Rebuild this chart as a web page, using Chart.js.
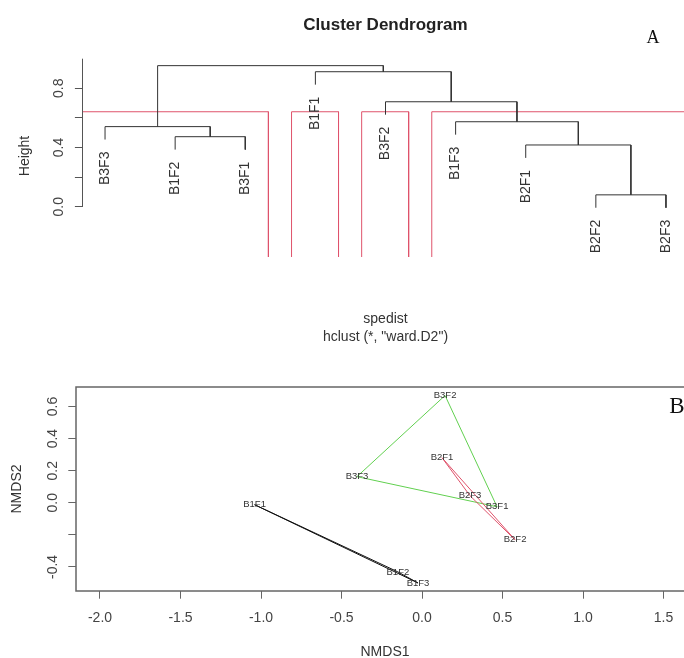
<!DOCTYPE html>
<html>
<head>
<meta charset="utf-8">
<script src="https://cdn.jsdelivr.net/npm/chart.js@4.4.1/dist/chart.umd.min.js"></script>
<style>
  html, body { margin: 0; padding: 0; background: #fff; overflow: hidden; width: 684px; height: 658px; }
  canvas { position: absolute; left: 0; }
  #dendro { top: 0; }
  #nmds { top: 350px; }
</style>
</head>
<body>
<canvas id="dendro" width="700" height="350"></canvas>
<canvas id="nmds" width="720" height="330"></canvas>
<script>
const FONT = '"Liberation Sans", Arial, sans-serif';
const SERIF = '"Liberation Serif", "Times New Roman", serif';

// --- A: cluster dendrogram (hclust, ward.D2) ---
const leafOrder = ['B3F3', 'B1F2', 'B3F1', 'B1F1', 'B3F2', 'B1F3', 'B2F1', 'B2F2', 'B2F3'];
// R style merge table: negative = leaf (position in leafOrder), positive = earlier merge
const mergeLeft = [-8, -7, -2, -1, -6, -5, -4, 4];
const mergeRight = [-9, 1, -3, 3, 2, 5, 6, 7];
const mergeHeight = [0.08, 0.417, 0.473, 0.541, 0.574, 0.709, 0.912, 0.953];
const nClusters = 4;
const heightTicks = [0, 0.2, 0.4, 0.6, 0.8];
const heightLabels = ['0.0', '', '0.4', '', '0.8'];
const heightAxisTop = 1.0;

// --- B: NMDS ---
const sites = ['B1F1', 'B1F2', 'B1F3', 'B2F1', 'B2F2', 'B2F3', 'B3F1', 'B3F2', 'B3F3'];
const groups = ['B1', 'B1', 'B1', 'B2', 'B2', 'B2', 'B3', 'B3', 'B3'];
const nmds1 = [-1.04, -0.15, -0.025, 0.124, 0.578, 0.298, 0.466, 0.143, -0.404];
const nmds2 = [-0.012, -0.431, -0.50, 0.281, -0.231, 0.044, -0.025, 0.669, 0.163];
const groupNames = ['B1', 'B2', 'B3'];
const groupColors = ['#111111', '#DF536B', '#61D04F'];
const nmds1Ticks = [-2.0, -1.5, -1.0, -0.5, 0.0, 0.5, 1.0, 1.5];
const nmds1Labels = ['-2.0', '-1.5', '-1.0', '-0.5', '0.0', '0.5', '1.0', '1.5'];
const nmds2Ticks = [-0.4, -0.2, 0.0, 0.2, 0.4, 0.6];
const nmds2Labels = ['-0.4', '', '0.0', '0.2', '0.4', '0.6'];

// build dendrogram segments from the merge table
const hang = 0.1 * (Math.max(...mergeHeight) - Math.min(...mergeHeight));
const leafEnd = [];
const mergeX = [];
const dendroSets = [];
mergeLeft.forEach((a, j) => {
  const b = mergeRight[j];
  const h = mergeHeight[j];
  const pos = c => c < 0 ? -c : mergeX[c - 1];
  const top = c => {
    if (c < 0) { leafEnd[-c - 1] = h - hang; return h - hang; }
    return mergeHeight[c - 1];
  };
  const x1 = pos(a), x2 = pos(b);
  const y1 = top(a), y2 = top(b);
  mergeX[j] = (x1 + x2) / 2;
  dendroSets.push({
    data: [{ x: x1, y: y1 }, { x: x1, y: h }, { x: x2, y: h }, { x: x2, y: y2 }],
    showLine: true, pointRadius: 0, borderColor: '#333', borderWidth: 1, fill: false
  });
});

// rect.hclust(k = 4)
const nm = mergeHeight.length;
const topMerges = [];
for (let j = nm - nClusters + 1; j < nm; j++) topMerges.push(j + 1);
const sortedH = [...mergeHeight].sort((p, q) => q - p);
const cutHeight = (sortedH[nClusters - 2] + sortedH[nClusters - 1]) / 2;
function leavesOf(c) {
  if (c < 0) return [-c];
  return leavesOf(mergeLeft[c - 1]).concat(leavesOf(mergeRight[c - 1]));
}
const clusters = [];
topMerges.forEach(m => {
  [mergeLeft[m - 1], mergeRight[m - 1]].forEach(c => {
    if (!topMerges.includes(c)) clusters.push(leavesOf(c));
  });
});
const yMinTop = -0.34;
clusters.forEach(lv => {
  const lo = Math.min(...lv) - 0.34, hi = Math.max(...lv) + 0.33;
  dendroSets.push({
    data: [{ x: lo, y: yMinTop }, { x: lo, y: cutHeight }, { x: hi, y: cutHeight }, { x: hi, y: yMinTop }],
    showLine: true, pointRadius: 0, borderColor: '#DF536B', borderWidth: 1, fill: false
  });
});

const dendroExtras = {
  id: 'dendroExtras',
  afterDraw(chart) {
    const { ctx, chartArea, scales: { x, y } } = chart;
    ctx.save();
    const ax = Math.floor(chartArea.left) + 0.5;
    ctx.strokeStyle = '#555';
    ctx.lineWidth = 1;
    ctx.beginPath();
    ctx.moveTo(ax, y.getPixelForValue(heightTicks[0]));
    ctx.lineTo(ax, y.getPixelForValue(heightAxisTop));
    ctx.stroke();

    ctx.fillStyle = '#333';
    ctx.font = '14px ' + FONT;
    ctx.textAlign = 'right';
    ctx.textBaseline = 'middle';
    leafOrder.forEach((lab, i) => {
      ctx.save();
      ctx.translate(x.getPixelForValue(i + 1), y.getPixelForValue(leafEnd[i]) + 12);
      ctx.rotate(-Math.PI / 2);
      ctx.fillText(lab, 0, 0);
      ctx.restore();
    });

    ctx.fillStyle = '#111';
    ctx.font = '18px ' + SERIF;
    ctx.textAlign = 'center';
    ctx.fillText('A', 653, 38);
    ctx.restore();
  }
};

new Chart(document.getElementById('dendro'), {
  type: 'scatter',
  data: { datasets: dendroSets },
  options: {
    responsive: false,
    animation: false,
    layout: { padding: { top: 0, right: 11.6, bottom: 0, left: 0 } },
    plugins: {
      legend: { display: false },
      tooltip: { enabled: false },
      title: {
        display: true,
        text: 'Cluster Dendrogram',
        fullSize: false,
        color: '#222',
        font: { family: FONT, size: 17, weight: 'bold', lineHeight: 1.2 },
        padding: { top: 14.8, bottom: 19.8 }
      }
    },
    scales: {
      x: {
        type: 'linear', min: 0.68, max: 9.32,
        grid: { display: false }, border: { display: false },
        ticks: { display: false },
        title: {
          display: true,
          text: ['spedist', 'hclust (*, "ward.D2")'],
          color: '#333',
          font: { family: FONT, size: 14, lineHeight: 18 / 14 },
          padding: { top: 0, bottom: 4 }
        },
        afterFit: s => { s.height = 93; }
      },
      y: {
        type: 'linear', min: yMinTop, max: 1.025,
        afterBuildTicks: s => { s.ticks = heightTicks.map(v => ({ value: v })); },
        grid: { display: true, drawOnChartArea: false, drawTicks: true, tickLength: 7.7, color: '#555' },
        border: { display: false },
        ticks: {
          autoSkip: false, minRotation: 90, maxRotation: 90, crossAlign: 'center', padding: 6.2,
          color: '#444', font: { family: FONT, size: 14 },
          callback: (v, i) => heightLabels[i]
        },
        title: {
          display: true, text: 'Height', color: '#333',
          font: { family: FONT, size: 14 }, padding: { top: 16.6, bottom: 0 }
        },
        afterFit: s => { s.width = 82.6; }
      }
    }
  },
  plugins: [dendroExtras]
});

// convex hulls (ordihull)
function hull(pts) {
  const p = [...pts].sort((a, b) => a.x - b.x || a.y - b.y);
  const cross = (o, a, b) => (a.x - o.x) * (b.y - o.y) - (a.y - o.y) * (b.x - o.x);
  const lower = [], upper = [];
  p.forEach(q => {
    while (lower.length >= 2 && cross(lower[lower.length - 2], lower[lower.length - 1], q) <= 0) lower.pop();
    lower.push(q);
  });
  [...p].reverse().forEach(q => {
    while (upper.length >= 2 && cross(upper[upper.length - 2], upper[upper.length - 1], q) <= 0) upper.pop();
    upper.push(q);
  });
  const h = lower.slice(0, -1).concat(upper.slice(0, -1));
  h.push(h[0]);
  return h;
}

const hullSets = groupNames.map((g, k) => {
  const pts = [];
  sites.forEach((s, i) => { if (groups[i] === g) pts.push({ x: nmds1[i], y: nmds2[i] }); });
  return {
    data: hull(pts), showLine: true, pointRadius: 0,
    borderColor: groupColors[k], borderWidth: 1, fill: false
  };
});

const nmdsExtras = {
  id: 'nmdsExtras',
  afterDraw(chart) {
    const { ctx, chartArea: a, scales: { x, y } } = chart;
    ctx.save();
    ctx.strokeStyle = '#666';
    ctx.lineWidth = 1.5;
    ctx.strokeRect(a.left, a.top, a.right - a.left, a.bottom - a.top);

    ctx.fillStyle = '#333';
    ctx.font = '9.5px ' + FONT;
    ctx.textAlign = 'center';
    ctx.textBaseline = 'middle';
    sites.forEach((s, i) => {
      ctx.fillText(s, x.getPixelForValue(nmds1[i]), y.getPixelForValue(nmds2[i]));
    });

    ctx.fillStyle = '#111';
    ctx.font = '23px ' + SERIF;
    ctx.fillText('B', 677, 57);
    ctx.restore();
  }
};

new Chart(document.getElementById('nmds'), {
  type: 'scatter',
  data: { datasets: hullSets },
  options: {
    responsive: false,
    animation: false,
    layout: { padding: { top: 37, right: 26, bottom: 0, left: 0 } },
    plugins: { legend: { display: false }, tooltip: { enabled: false } },
    scales: {
      x: {
        type: 'linear', min: -2.149, max: 1.689,
        afterBuildTicks: s => { s.ticks = nmds1Ticks.map(v => ({ value: v })); },
        grid: { display: true, drawOnChartArea: false, drawTicks: true, tickLength: 7.7, color: '#666' },
        border: { display: false },
        ticks: {
          autoSkip: false, maxRotation: 0, padding: 10.9,
          color: '#444', font: { family: FONT, size: 14 },
          callback: (v, i) => nmds1Labels[i]
        },
        title: {
          display: true, text: 'NMDS1', color: '#333',
          font: { family: FONT, size: 14 }, padding: { top: 0, bottom: 19.6 }
        },
        afterFit: s => { s.height = 89; }
      },
      y: {
        type: 'linear', min: -0.55, max: 0.722,
        afterBuildTicks: s => { s.ticks = nmds2Ticks.map(v => ({ value: v })); },
        grid: { display: true, drawOnChartArea: false, drawTicks: true, tickLength: 7.7, color: '#666' },
        border: { display: false },
        ticks: {
          autoSkip: false, minRotation: 90, maxRotation: 90, crossAlign: 'center', padding: 2.9,
          color: '#444', font: { family: FONT, size: 14 },
          callback: (v, i) => nmds2Labels[i]
        },
        title: {
          display: true, text: 'NMDS2', color: '#333',
          font: { family: FONT, size: 14 }, padding: { top: 8.6, bottom: 0 }
        },
        afterFit: s => { s.width = 76; }
      }
    }
  },
  plugins: [nmdsExtras]
});
</script>
</body>
</html>
